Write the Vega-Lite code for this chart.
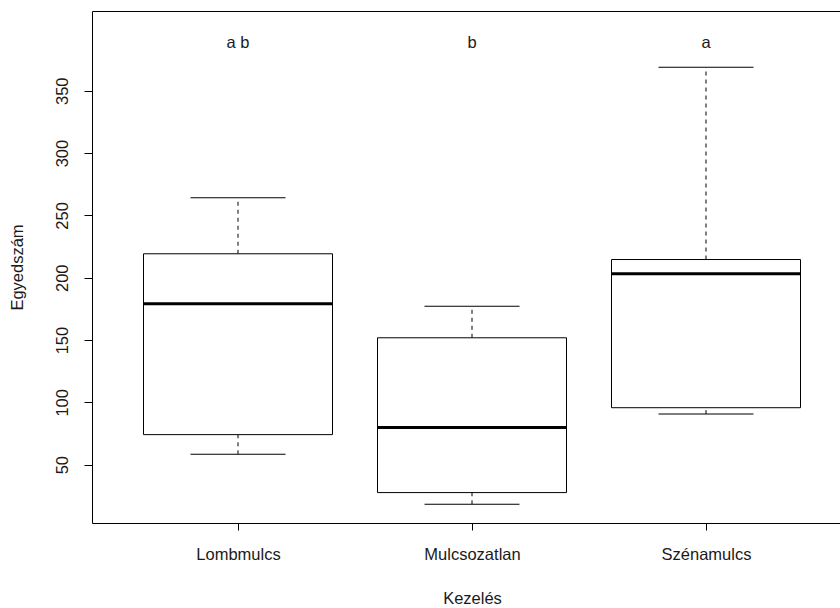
{
  "$schema": "https://vega.github.io/schema/vega-lite/v6.json",
  "width": 748,
  "height": 512,
  "autosize": {"type": "none"},
  "padding": {"left": 92, "top": 11, "right": 0, "bottom": 85},
  "background": "white",
  "config": {
    "view": {"stroke": "#000", "strokeWidth": 1},
    "font": "Liberation Sans",
    "axis": {"grid": false, "domain": false, "tickColor": "#000", "labelColor": "#1a1a1a", "titleColor": "#1a1a1a", "labelFontSize": 16.5, "titleFontSize": 16.5, "titleFontWeight": "normal", "labelFont": "Liberation Sans", "titleFont": "Liberation Sans"}
  },
  "data": {
    "values": [
      {"group": "Lombmulcs", "lower": 58.3, "q1": 74.1, "median": 179.1, "q3": 219.2, "upper": 264.1, "letters": "a b"},
      {"group": "Mulcsozatlan", "lower": 18.2, "q1": 27.6, "median": 79.9, "q3": 151.8, "upper": 177.2, "letters": "b"},
      {"group": "Szénamulcs", "lower": 90.6, "q1": 95.7, "median": 203.1, "q3": 214.6, "upper": 368.8, "letters": "a"}
    ]
  },
  "encoding": {
    "x": {
      "field": "group", "type": "nominal",
      "scale": {"type": "point", "range": [146, 614], "padding": 0},
      "axis": {"title": "Kezelés", "labelAngle": 0, "tickSize": 7, "labelPadding": 16, "titleX": 380, "titleY": 80, "titleBaseline": "alphabetic", "titleAnchor": null, "titleAlign": "center"}
    }
  },
  "layer": [
    {
      "mark": {"type": "rule", "color": "#000", "strokeWidth": 1, "strokeDash": [4, 4]},
      "encoding": {
        "y": {"field": "q3", "type": "quantitative", "scale": {"domain": [3.2, 414], "nice": false, "zero": false},
          "axis": {"title": "Egyedszám", "values": [50, 100, 150, 200, 250, 300, 350], "labelAngle": -90, "labelAlign": "center", "labelBaseline": "alphabetic", "tickSize": 8, "labelPadding": 17, "titleAngle": -90, "titleX": -70, "titleY": 256, "titleBaseline": "alphabetic", "titleAlign": "center", "titleAnchor": null}},
        "y2": {"field": "upper"}
      }
    },
    {
      "mark": {"type": "rule", "color": "#000", "strokeWidth": 1, "strokeDash": [4, 4]},
      "encoding": {
        "y": {"field": "lower", "type": "quantitative"},
        "y2": {"field": "q1"}
      }
    },
    {
      "mark": {"type": "tick", "color": "#000", "size": 95, "thickness": 1, "opacity": 1},
      "encoding": {"y": {"field": "upper", "type": "quantitative"}}
    },
    {
      "mark": {"type": "tick", "color": "#000", "size": 95, "thickness": 1, "opacity": 1},
      "encoding": {"y": {"field": "lower", "type": "quantitative"}}
    },
    {
      "mark": {"type": "bar", "fill": "white", "stroke": "#000", "strokeWidth": 1, "size": 189},
      "encoding": {
        "y": {"field": "q1", "type": "quantitative"},
        "y2": {"field": "q3"}
      }
    },
    {
      "mark": {"type": "tick", "color": "#000", "size": 189, "thickness": 3, "opacity": 1},
      "encoding": {"y": {"field": "median", "type": "quantitative"}}
    },
    {
      "mark": {"type": "text", "color": "#1a1a1a", "fontSize": 16.5, "font": "Liberation Sans", "baseline": "middle", "align": "center"},
      "encoding": {
        "y": {"datum": 388, "type": "quantitative"},
        "text": {"field": "letters"}
      }
    }
  ]
}
